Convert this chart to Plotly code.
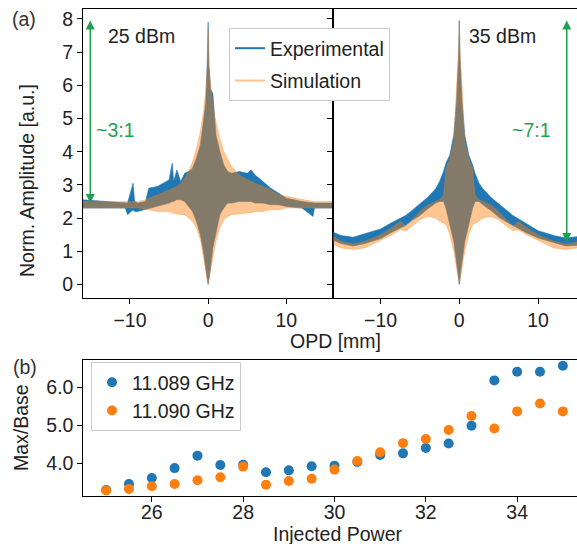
import plotly.graph_objects as go

# (a) envelopes of the interferograms
opd_25 = [-16, -13, -10.6, -10.3, -9.6, -9.4, -9, -8, -7.6, -6.5, -5, -4.6, -4.4, -4, -3.5, -3,
          -2.5, -2, -1.5, -1, -0.6, -0.3, -0.1, 0, 0.1, 0.3, 0.6, 1, 1.5, 2, 2.5, 3, 4, 5,
          5.5, 6, 7, 8, 9, 10, 12, 13.4, 13.6, 16]
exp_hi_25 = [2.55, 2.5, 2.45, 2.45, 3.05, 2.5, 2.45, 2.5, 2.9, 2.95, 3.15, 3.65, 3.1, 3.45, 3.1, 3.35,
             3.4, 3.5, 3.8, 4.2, 4.9, 5.5, 6.8, 7.9, 6.6, 5.9, 5.75, 4.5, 4.0, 3.6, 3.4, 3.35, 3.4, 3.35,
             3.45, 3.3, 3.1, 2.9, 2.75, 2.6, 2.5, 2.45, 2.45, 2.45]
exp_lo_25 = [2.3, 2.3, 2.3, 2.1, 2.25, 2.2, 2.2, 2.25, 2.3, 2.35, 2.45, 2.5, 2.5, 2.55, 2.55, 2.5,
             2.35, 2.2, 1.9, 1.5, 1.0, 0.5, 0.15, 0.0, 0.15, 0.5, 1.1, 1.55, 2.1, 2.3, 2.45, 2.45, 2.5, 2.5,
             2.5, 2.45, 2.45, 2.4, 2.4, 2.35, 2.3, 2.05, 2.3, 2.3]
sim_hi_25 = [2.5, 2.5, 2.5, 2.5, 2.5, 2.5, 2.5, 2.55, 2.6, 2.7, 2.85, 2.9, 2.92, 2.95, 3.05, 3.2,
             3.4, 3.7, 4.1, 4.6, 5.2, 5.9, 6.6, 7.7, 6.6, 6.1, 5.4, 4.9, 4.4, 4.0, 3.75, 3.55, 3.3, 3.15,
             3.1, 3.05, 2.95, 2.85, 2.7, 2.65, 2.55, 2.5, 2.5, 2.5]
sim_lo_25 = [2.3, 2.3, 2.3, 2.3, 2.3, 2.3, 2.3, 2.25, 2.25, 2.2, 2.2, 2.15, 2.15, 2.12, 2.1, 2.1,
             2.0, 1.9, 1.7, 1.35, 0.8, 0.4, 0.12, 0.0, 0.12, 0.4, 0.8, 1.3, 1.7, 1.95, 2.05, 2.1, 2.12, 2.15,
             2.15, 2.2, 2.2, 2.25, 2.25, 2.3, 2.3, 2.3, 2.3, 2.3]

opd_35 = [-16, -15, -13.5, -12, -10, -8.5, -7.5, -6.8, -6, -5, -4, -3, -2.5, -2, -1.7, -1.2, -0.7,
          -0.35, -0.1, 0, 0.1, 0.35, 0.7, 1.2, 1.7, 2, 2.5, 3, 4, 5, 6, 6.8, 7.5, 8.5, 10, 12, 13.5, 15]
exp_hi_35 = [1.57, 1.47, 1.42, 1.52, 1.67, 1.87, 1.98, 2.08, 2.23, 2.43, 2.63, 2.88, 3.1, 3.4, 3.65, 3.9, 4.5,
             5.5, 6.8, 7.95, 6.8, 5.5, 4.5, 3.9, 3.6, 3.35, 3.05, 2.88, 2.63, 2.43, 2.23, 2.08, 1.98, 1.83,
             1.62, 1.47, 1.4, 1.44]
exp_lo_35 = [1.33, 1.23, 1.16, 1.23, 1.38, 1.58, 1.7, 1.78, 1.93, 2.08, 2.28, 2.45, 2.5, 2.5, 2.3, 1.8, 1.3,
             0.7, 0.2, 0.0, 0.2, 0.7, 1.3, 1.8, 2.3, 2.5, 2.5, 2.4, 2.23, 2.03, 1.88, 1.76, 1.68, 1.56,
             1.4, 1.26, 1.16, 1.18]
sim_hi_35 = [1.45, 1.3, 1.22, 1.3, 1.5, 1.72, 1.9, 1.75, 1.95, 2.2, 2.4, 2.5, 2.55, 2.7, 3.5, 3.8, 4.3,
             6.0, 7.0, 7.95, 7.0, 6.0, 4.3, 3.8, 3.5, 2.7, 2.55, 2.5, 2.4, 2.2, 1.95, 1.75, 1.9, 1.72,
             1.5, 1.3, 1.22, 1.28]
sim_lo_35 = [1.2, 1.1, 1.05, 1.1, 1.32, 1.5, 1.65, 1.62, 1.75, 1.95, 2.05, 2.0, 1.9, 1.85, 1.8, 1.5, 1.0,
             0.5, 0.15, 0.0, 0.15, 0.5, 1.0, 1.5, 1.8, 1.85, 1.9, 2.0, 2.05, 1.95, 1.75, 1.62, 1.65, 1.5,
             1.32, 1.1, 1.05, 1.1]

# (b) max/base ratio vs injected power
power = [25, 25.5, 26, 26.5, 27, 27.5, 28, 28.5, 29, 29.5, 30, 30.5, 31, 31.5, 32, 32.5, 33, 33.5, 34, 34.5, 35]
ratio_089 = [3.29, 3.45, 3.61, 3.87, 4.20, 3.95, 3.96, 3.76, 3.81, 3.92, 3.93, 4.03, 4.22, 4.26, 4.40, 4.52,
             4.99, 6.19, 6.42, 6.42, 6.58]
ratio_090 = [3.28, 3.32, 3.39, 3.45, 3.55, 3.63, 3.91, 3.43, 3.53, 3.59, 3.83, 4.06, 4.29, 4.53, 4.64, 4.88,
             5.25, 4.92, 5.37, 5.58, 5.37]

W, H = 577, 544
FONT = "Liberation Sans, Arial, sans-serif"
FS = 19.5
BLUE = "#1f77b4"
ORANGE = "#ff7f0e"
SIM_FILL = "rgba(255,127,14,0.45)"
GREEN = "#1ea24f"


def fx(p):
    return p / W


def fy(p):
    return 1 - p / H


def band(x, hi, lo, color, xa, ya):
    return go.Scatter(x=x + x[::-1], y=hi + lo[::-1], fill="toself", fillcolor=color,
                      mode="lines", line=dict(color=color, width=0.6),
                      hoverinfo="skip", showlegend=False, xaxis=xa, yaxis=ya)


fig = go.Figure()
fig.add_trace(band(opd_25, exp_hi_25, exp_lo_25, BLUE, "x", "y"))
fig.add_trace(band(opd_25, sim_hi_25, sim_lo_25, SIM_FILL, "x", "y"))
fig.add_trace(band(opd_35, exp_hi_35, exp_lo_35, BLUE, "x2", "y2"))
fig.add_trace(band(opd_35, sim_hi_35, sim_lo_35, SIM_FILL, "x2", "y2"))

# legend entries for (a)
fig.add_trace(go.Scatter(x=[None], y=[None], mode="lines", name="Experimental", legendgroup="e",
                         line=dict(color=BLUE, width=2), legend="legend"))
fig.add_trace(go.Scatter(x=[None], y=[None], mode="lines", name="Simulation", legendgroup="s",
                         line=dict(color="#ffc390", width=2), legend="legend"))

fig.add_trace(go.Scatter(x=power, y=ratio_089, mode="markers", name="11.089 GHz",
                         marker=dict(color=BLUE, size=10), xaxis="x3", yaxis="y3", legend="legend2"))
fig.add_trace(go.Scatter(x=power, y=ratio_090, mode="markers", name="11.090 GHz",
                         marker=dict(color=ORANGE, size=10), xaxis="x3", yaxis="y3", legend="legend2"))

ax_common = dict(showline=True, linecolor="black", linewidth=1, ticks="outside", ticklen=5,
                 tickcolor="black", showgrid=False, zeroline=False,
                 tickfont=dict(family=FONT, size=FS, color="#222"))

top_y = [fy(298), fy(9)]
fig.update_layout(
    width=W, height=H, margin=dict(l=0, r=0, t=0, b=0),
    paper_bgcolor="white", plot_bgcolor="white",
    font=dict(family=FONT, size=FS, color="#222"),
    xaxis=dict(domain=[fx(83), fx(333.3)], range=[-16, 16], tickvals=[-10, 0, 10],
               ticktext=["\u221210", "0", "10"], mirror=True, anchor="y", **ax_common),
    yaxis=dict(domain=top_y, range=[-0.41, 8.3], tickvals=list(range(9)), mirror=True,
               anchor="x", **ax_common),
    xaxis2=dict(domain=[fx(333.3), 1.0], range=[-16, 14.95], tickvals=[-10, 0, 10],
                ticktext=["\u221210", "0", "10"], mirror=True, anchor="y2", **ax_common),
    yaxis2=dict(domain=top_y, range=[-0.41, 8.3], tickvals=list(range(9)), showticklabels=False,
                anchor="x2", **ax_common),
    xaxis3=dict(domain=[fx(83.3), 1.0], range=[24.5, 35.31], tickvals=[26, 28, 30, 32, 34],
                mirror=True, anchor="y3", ticklabelstandoff=-6, **ax_common),
    yaxis3=dict(domain=[fy(495.7), fy(360)], range=[3.14, 6.73], tickvals=[4, 5, 6],
                ticktext=["4.0", "5.0", "6.0"], mirror=True, anchor="x3", **ax_common),
    legend=dict(x=fx(229), y=fy(28), xanchor="left", yanchor="top", bgcolor="white",
                bordercolor="#cccccc", borderwidth=1, font=dict(family=FONT, size=FS, color="#222"),
                tracegroupgap=4, itemwidth=30),
    legend2=dict(x=fx(91), y=fy(362), xanchor="left", yanchor="top", bgcolor="white",
                 bordercolor="#cccccc", borderwidth=1, font=dict(family=FONT, size=FS, color="#222"),
                 tracegroupgap=0, itemwidth=30),
    showlegend=True,
)

texts = [
    ("(a)", 24, 19, 0, "#333"),
    ("(b)", 25, 367, 0, "#333"),
    ("25 dBm", 141, 36, 0, "#222"),
    ("35 dBm", 502, 36, 0, "#222"),
    ("~3:1", 115, 130, 0, GREEN),
    ("~7:1", 531, 130, 0, GREEN),
    ("Norm. Amplitude [a.u.]", 27, 181, -90, "#222"),
    ("OPD [mm]", 335, 341, 0, "#222"),
    ("Max/Base", 21, 428, -90, "#222"),
    ("Injected Power", 337, 534, 0, "#222"),
]
for t, x, y, ang, col in texts:
    fig.add_annotation(text=t, x=fx(x), y=fy(y), xref="paper", yref="paper", showarrow=False,
                       xanchor="center", yanchor="middle", textangle=ang,
                       font=dict(family=FONT, size=FS, color=col))

# double-headed arrows marking max/base
fig.add_annotation(x=-15.07, y=2.45, ax=-15.07, ay=8.0, xref="x", yref="y", axref="x", ayref="y",
                   text="", showarrow=True, arrowhead=2, arrowside="end+start", arrowsize=1.2,
                   arrowwidth=1.5, arrowcolor=GREEN)
fig.add_annotation(x=13.65, y=1.28, ax=13.65, ay=8.0, xref="x2", yref="y2", axref="x2", ayref="y2",
                   text="", showarrow=True, arrowhead=2, arrowside="end+start", arrowsize=1.2,
                   arrowwidth=1.5, arrowcolor=GREEN)

# page body has a default 8px margin, drop it so the figure sits at the top-left
fig.write_html("out.html", config={"displayModeBar": False},
               post_script="document.body.style.margin='0px';")
